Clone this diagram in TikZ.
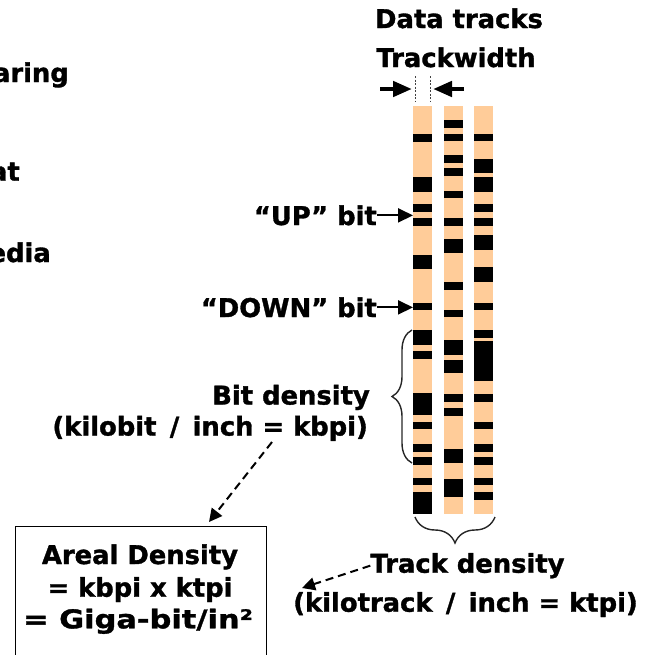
\documentclass[tikz,border=0pt]{standalone}
\usepackage{fontspec}
\newfontfamily\labelfont{DejaVu Sans}[BoldFeatures={FakeBold=1.3}]
\usetikzlibrary{arrows.meta,decorations.pathreplacing}
\definecolor{tape}{RGB}{255,204,153}
% a broader slash, set with some room on each side
\newcommand\wideslash{\kern0.17em/\kern0.17em}
\begin{document}
\begin{tikzpicture}[x=1pt,y=-1pt,
  txt/.style={inner sep=0pt, font=\labelfont\bfseries\fontsize{25.8}{30}\selectfont},
  broadtxt/.style={txt, font=\labelfont\bfseries\fontsize{25.8}{30}\selectfont\addfontfeature{FakeStretch=1.18}},
  tapestrip/.style={fill=tape},
  bitbar/.style={fill=black},
  dasharrow/.style={line width=2pt, dash pattern=on 8pt off 5pt, -{Triangle[length=13pt,width=13pt]}},
  widtharrow/.style={line width=4.5pt, -{Triangle[length=19pt,width=15pt]}},
  bitarrow/.style={line width=2pt, -{Triangle[length=15pt,width=14pt]}},
  guide/.style={line width=0.9pt, dash pattern=on 2pt off 1.5pt, black!75},
  bracestyle/.style={line width=1.4pt, black!85, decorate},
  boxline/.style={line width=1.3pt}]
\useasboundingbox (0,0) rectangle (656,654);
\clip (0,0) rectangle (656,654);

% three data tracks
\fill[tapestrip] (413,106) rectangle (432,514);
\fill[tapestrip] (444,106) rectangle (463,514);
\fill[tapestrip] (474,106) rectangle (493,514);

% recorded bits, track 1
\foreach \t/\b in {134/141.7, 177/191.7, 204/211.7, 218/225.7, 255/268.7,
  303/310, 330/345, 351/359, 393/415, 421.7/429, 444/452, 457/465,
  478/485, 492/514}
  \fill[bitbar] (413,\t) rectangle (432,\b);
% track 2
\foreach \t/\b in {120/128, 134/141, 155/163, 168/176, 191/198, 218/225.7,
  239/253, 282/290, 310/317, 340/355, 360/373, 394/402, 408/416,
  449/463, 479/497}
  \fill[bitbar] (444,\t) rectangle (463,\b);
% track 3
\foreach \t/\b in {134/141, 159/173, 177/191.7, 204/212, 218/225.7, 235/250,
  267/281.7, 303/310, 330/338, 341/381, 394/402, 421.7/429, 444/452,
  457/465, 478/485, 492/500}
  \fill[bitbar] (474,\t) rectangle (493,\b);

% clipped labels at the left edge
\node[txt, anchor=base east] (lefta) at (69,82) {aring};
\node[txt, anchor=base east] (leftb) at (20,180.7) {at};
\node[txt, anchor=base east] (leftc) at (51,262) {edia};

% track width
\node[txt, anchor=base] (dt) at (459,28) {Data tracks};
\node[txt, anchor=base] (tw) at (456,67) {Trackwidth};
\coordinate (twl) at (415,89);
\coordinate (twr) at (430,89);
\draw[guide] (415,76) -- (415,101);
\draw[guide] (430,76) -- (430,101);
\coordinate (twlstart) at (380,89);
\coordinate (twrstart) at (464,89);
\draw[widtharrow, shorten >=3pt] (twlstart) -- (twl);
\draw[widtharrow, shorten >=3pt] (twrstart) -- (twr);

% bit labels
\coordinate (trackedge) at (413,0);
\node[txt, anchor=base east] (up) at (377,225) {“UP” bit};
\node[txt, anchor=base east] (down) at (377,317) {“DOWN” bit};
\draw[bitarrow] (up.east) -- (up.east -| trackedge);
\draw[bitarrow] (down.east) -- (down.east -| trackedge);

% bit density
\draw[bracestyle, decoration={brace, amplitude=20pt}] (412,463) -- (412,330);
\node[txt, anchor=base east] (bd1) at (370,404.5) {Bit density};
\node[txt, anchor=base east] (bd2) at (368,435.5) {(kilobit \wideslash{} inch = kbpi)};

% track density
\draw[bracestyle, decoration={brace, amplitude=26pt}] (495,517) -- (415,517);
\node[txt, anchor=base] (td1) at (467.5,572.7) {Track density};
\node[txt, anchor=base] (td2) at (465.5,611.7) {(kilotrack \wideslash{} inch = ktpi)};

% areal density box
\node[draw, boxline, anchor=north west, minimum width=251pt, minimum height=140pt, inner sep=0pt] (areal) at (15,526) {};
\node[txt, anchor=base] (ar1) at (140,564) {Areal Density};
\node[txt, anchor=base] (ar2) at (140,596.7) {= kbpi x ktpi};
\node[broadtxt, anchor=base] (ar3) at (138,628.3) {= Giga-bit/in²};

% dashed pointers to the box
\coordinate (bdtail) at (272,442);
\coordinate (bdhead) at (209,522);
\draw[dasharrow] (bdtail) -- (bdhead);
\coordinate (tdhead) at (302,588);
\draw[dasharrow] (td1.west) -- (tdhead);
\end{tikzpicture}
\end{document}
